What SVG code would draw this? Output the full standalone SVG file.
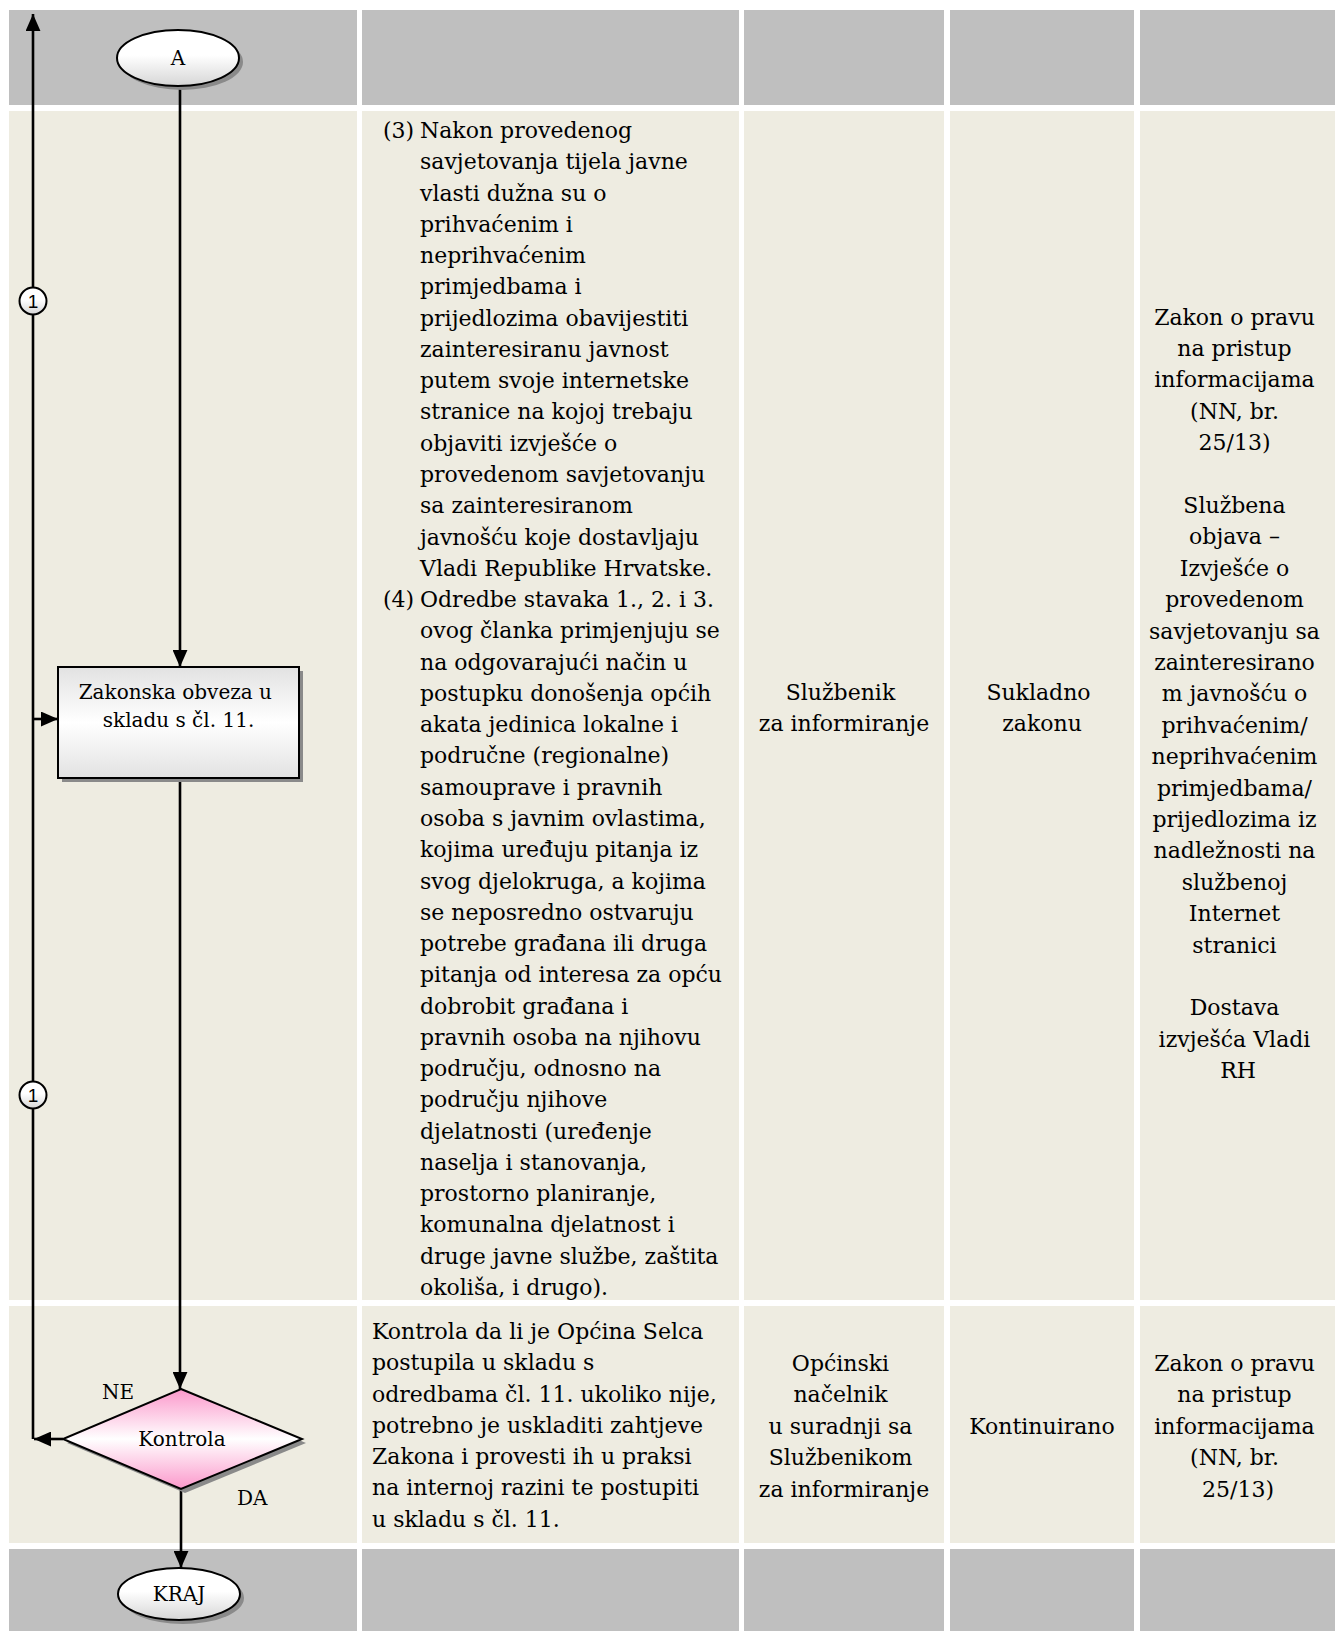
<svg xmlns="http://www.w3.org/2000/svg" width="1335" height="1631" viewBox="0 0 1335 1631">
<defs>
<style>
.hdr{fill:#BFBFBF}
.cell{fill:#EEECE1}
.t{font-family:"DejaVu Serif","Liberation Serif",serif;font-size:22px;fill:#000}
.lb{font-family:"DejaVu Serif","Liberation Serif",serif;font-size:20px;fill:#000}
.c{text-anchor:middle}
.ln{stroke:#000;stroke-width:2.6;fill:none}
.sh{fill:#8a8a8a}
.ol{stroke:#000;stroke-width:2}
.num{font-family:"Liberation Sans",Arial,sans-serif;font-size:19px;fill:#000;text-anchor:middle}
</style>
<marker id="ah" viewBox="0 0 16 14" refX="16" refY="7" markerWidth="17" markerHeight="15" markerUnits="userSpaceOnUse" orient="auto">
<path d="M0,0 L16,7 L0,14 z" fill="#000"/>
</marker>
<linearGradient id="gEl" x1="0" y1="0" x2="0" y2="1">
<stop offset="0" stop-color="#ffffff"/>
<stop offset="0.45" stop-color="#ffffff"/>
<stop offset="1" stop-color="#d6d6d6"/>
</linearGradient>
<linearGradient id="gRect" x1="0" y1="0" x2="0" y2="1">
<stop offset="0" stop-color="#e2e2e2"/>
<stop offset="0.5" stop-color="#ffffff"/>
<stop offset="1" stop-color="#e2e2e2"/>
</linearGradient>
<linearGradient id="gDia" x1="0" y1="0" x2="0" y2="1">
<stop offset="0" stop-color="#fb98cb"/>
<stop offset="0.5" stop-color="#ffffff"/>
<stop offset="1" stop-color="#fb98cb"/>
</linearGradient>
</defs>

<g id="table">
<rect class="hdr" x="9" y="10" width="348" height="95"/>
<rect class="hdr" x="362" y="10" width="377" height="95"/>
<rect class="hdr" x="744" y="10" width="200" height="95"/>
<rect class="hdr" x="950" y="10" width="184" height="95"/>
<rect class="hdr" x="1140" y="10" width="195" height="95"/>

<rect class="cell" x="9" y="111" width="348" height="1189"/>
<rect class="cell" x="362" y="111" width="377" height="1189"/>
<rect class="cell" x="744" y="111" width="200" height="1189"/>
<rect class="cell" x="950" y="111" width="184" height="1189"/>
<rect class="cell" x="1140" y="111" width="195" height="1189"/>

<rect class="cell" x="9" y="1306" width="348" height="237"/>
<rect class="cell" x="362" y="1306" width="377" height="237"/>
<rect class="cell" x="744" y="1306" width="200" height="237"/>
<rect class="cell" x="950" y="1306" width="184" height="237"/>
<rect class="cell" x="1140" y="1306" width="195" height="237"/>

<rect class="hdr" x="9" y="1549" width="348" height="82"/>
<rect class="hdr" x="362" y="1549" width="377" height="82"/>
<rect class="hdr" x="744" y="1549" width="200" height="82"/>
<rect class="hdr" x="950" y="1549" width="184" height="82"/>
<rect class="hdr" x="1140" y="1549" width="195" height="82"/>
</g>

<g id="row1-text">
<text class="t" x="383" y="138">(3)</text>
<text class="t" x="383" y="607">(4)</text>
<text class="t">
<tspan x="420" y="138">Nakon provedenog</tspan>
<tspan x="420" y="169.3">savjetovanja tijela javne</tspan>
<tspan x="420" y="200.5">vlasti dužna su o</tspan>
<tspan x="420" y="231.8">prihvaćenim i</tspan>
<tspan x="420" y="263.1">neprihvaćenim</tspan>
<tspan x="420" y="294.4">primjedbama i</tspan>
<tspan x="420" y="325.6">prijedlozima obavijestiti</tspan>
<tspan x="420" y="356.9">zainteresiranu javnost</tspan>
<tspan x="420" y="388.2">putem svoje internetske</tspan>
<tspan x="420" y="419.4">stranice na kojoj trebaju</tspan>
<tspan x="420" y="450.7">objaviti izvješće o</tspan>
<tspan x="420" y="482">provedenom savjetovanju</tspan>
<tspan x="420" y="513.2">sa zainteresiranom</tspan>
<tspan x="420" y="544.5">javnošću koje dostavljaju</tspan>
<tspan x="420" y="575.8">Vladi Republike Hrvatske.</tspan>
<tspan x="420" y="607">Odredbe stavaka 1., 2. i 3.</tspan>
<tspan x="420" y="638.3">ovog članka primjenjuju se</tspan>
<tspan x="420" y="669.6">na odgovarajući način u</tspan>
<tspan x="420" y="700.9">postupku donošenja općih</tspan>
<tspan x="420" y="732.1">akata jedinica lokalne i</tspan>
<tspan x="420" y="763.4">područne (regionalne)</tspan>
<tspan x="420" y="794.7">samouprave i pravnih</tspan>
<tspan x="420" y="825.9">osoba s javnim ovlastima,</tspan>
<tspan x="420" y="857.2">kojima uređuju pitanja iz</tspan>
<tspan x="420" y="888.5">svog djelokruga, a kojima</tspan>
<tspan x="420" y="919.7">se neposredno ostvaruju</tspan>
<tspan x="420" y="951">potrebe građana ili druga</tspan>
<tspan x="420" y="982.3">pitanja od interesa za opću</tspan>
<tspan x="420" y="1013.6">dobrobit građana i</tspan>
<tspan x="420" y="1044.8">pravnih osoba na njihovu</tspan>
<tspan x="420" y="1076.1">području, odnosno na</tspan>
<tspan x="420" y="1107.4">području njihove</tspan>
<tspan x="420" y="1138.6">djelatnosti (uređenje</tspan>
<tspan x="420" y="1169.9">naselja i stanovanja,</tspan>
<tspan x="420" y="1201.2">prostorno planiranje,</tspan>
<tspan x="420" y="1232.4">komunalna djelatnost i</tspan>
<tspan x="420" y="1263.7">druge javne službe, zaštita</tspan>
<tspan x="420" y="1295">okoliša, i drugo).</tspan>
</text>
<text class="t c">
<tspan x="844" y="700">Službenik</tspan>
<tspan x="844" y="731.4">za informiranje</tspan>
</text>
<text class="t c">
<tspan x="1042" y="700">Sukladno</tspan>
<tspan x="1042" y="731.4">zakonu</tspan>
</text>
<text class="t c">
<tspan x="1238" y="324.6">Zakon o pravu</tspan>
<tspan x="1238" y="356">na pristup</tspan>
<tspan x="1238" y="387.4">informacijama</tspan>
<tspan x="1238" y="418.8">(NN, br.</tspan>
<tspan x="1238" y="450.2">25/13)</tspan>
<tspan x="1238" y="513">Službena</tspan>
<tspan x="1238" y="544.4">objava –</tspan>
<tspan x="1238" y="575.8">Izvješće o</tspan>
<tspan x="1238" y="607.2">provedenom</tspan>
<tspan x="1238" y="638.6">savjetovanju sa</tspan>
<tspan x="1238" y="670">zainteresirano</tspan>
<tspan x="1238" y="701.4">m javnošću o</tspan>
<tspan x="1238" y="732.8">prihvaćenim/</tspan>
<tspan x="1238" y="764.2">neprihvaćenim</tspan>
<tspan x="1238" y="795.6">primjedbama/</tspan>
<tspan x="1238" y="827">prijedlozima iz</tspan>
<tspan x="1238" y="858.4">nadležnosti na</tspan>
<tspan x="1238" y="889.8">službenoj</tspan>
<tspan x="1238" y="921.2">Internet</tspan>
<tspan x="1238" y="952.6">stranici</tspan>
<tspan x="1238" y="1015.4">Dostava</tspan>
<tspan x="1238" y="1046.8">izvješća Vladi</tspan>
<tspan x="1238" y="1078.2">RH</tspan>
</text>
</g>

<g id="row2-text">
<text class="t">
<tspan x="372" y="1339">Kontrola da li je Općina Selca</tspan>
<tspan x="372" y="1370.3">postupila u skladu s</tspan>
<tspan x="372" y="1401.5">odredbama čl. 11. ukoliko nije,</tspan>
<tspan x="372" y="1432.8">potrebno je uskladiti zahtjeve</tspan>
<tspan x="372" y="1464.1">Zakona i provesti ih u praksi</tspan>
<tspan x="372" y="1495.4">na internoj razini te postupiti</tspan>
<tspan x="372" y="1526.6">u skladu s čl. 11.</tspan>
</text>
<text class="t c">
<tspan x="844" y="1371">Općinski</tspan>
<tspan x="844" y="1402.4">načelnik</tspan>
<tspan x="844" y="1433.8">u suradnji sa</tspan>
<tspan x="844" y="1465.2">Službenikom</tspan>
<tspan x="844" y="1496.6">za informiranje</tspan>
</text>
<text class="t c" x="1042" y="1433.8">Kontinuirano</text>
<text class="t c">
<tspan x="1238" y="1371">Zakon o pravu</tspan>
<tspan x="1238" y="1402.4">na pristup</tspan>
<tspan x="1238" y="1433.8">informacijama</tspan>
<tspan x="1238" y="1465.2">(NN, br.</tspan>
<tspan x="1238" y="1496.6">25/13)</tspan>
</text>
</g>

<g id="connectors">
<path class="ln" d="M180,86 V667" marker-end="url(#ah)"/>
<path class="ln" d="M180,778 V1389" marker-end="url(#ah)"/>
<path class="ln" d="M181,1489 V1568" marker-end="url(#ah)"/>
<path class="ln" d="M63,1439 H34" marker-end="url(#ah)"/>
<path class="ln" d="M33,1439 V14" marker-end="url(#ah)"/>
<path class="ln" d="M33,719 H58" marker-end="url(#ah)"/>
<text class="lb" x="102" y="1399">NE</text>
<text class="lb" x="237" y="1505">DA</text>
</g>

<g id="start-A">
<ellipse class="sh" cx="182" cy="62" rx="61" ry="28"/>
<ellipse class="ol" cx="178" cy="58" rx="61" ry="28" fill="url(#gEl)"/>
<text class="lb c" x="178" y="65">A</text>
</g>

<g id="task-zakonska">
<rect class="sh" x="62" y="671" width="241" height="111"/>
<rect class="ol" x="58" y="667" width="241" height="111" fill="url(#gRect)"/>
<text class="lb c">
<tspan x="178.5" y="699">Zakonska obveza u</tspan>
<tspan x="178.5" y="727">skladu s čl. 11.</tspan>
</text>
</g>

<g id="decision-kontrola">
<polygon class="sh" points="185,1393 306,1443 185,1493 67,1443"/>
<polygon class="ol" points="181,1389 302,1439 181,1489 63,1439" fill="url(#gDia)"/>
<text class="lb c" x="182" y="1446">Kontrola</text>
</g>

<g id="end-kraj">
<ellipse class="sh" cx="183" cy="1598" rx="61" ry="26"/>
<ellipse class="ol" cx="179" cy="1594" rx="61" ry="26" fill="url(#gEl)"/>
<text class="lb c" x="179" y="1601">KRAJ</text>
</g>

<g id="connector-1-top">
<circle class="ol" cx="33" cy="301" r="13.5" fill="url(#gEl)"/>
<text class="num" x="33" y="308">1</text>
</g>
<g id="connector-1-bottom">
<circle class="ol" cx="33" cy="1095" r="13.5" fill="url(#gEl)"/>
<text class="num" x="33" y="1102">1</text>
</g>
</svg>
